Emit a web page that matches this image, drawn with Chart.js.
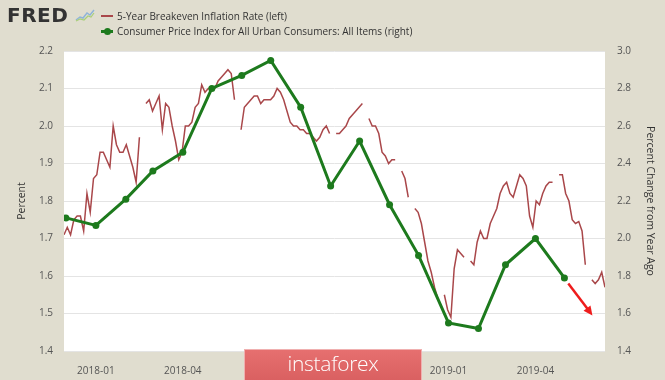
<!DOCTYPE html>
<html>
<head>
<meta charset="utf-8">
<script src="https://cdn.jsdelivr.net/npm/chart.js@4.4.1/dist/chart.umd.min.js"></script>
<style>
  body { margin: 0; background: #e0ddcf; }
  #wrap { position: relative; width: 665px; height: 380px; overflow: hidden; font-family: "Open Sans", sans-serif; }
  #c { position: absolute; left: 0; top: 0; }
  .logo { position: absolute; left: 7px; top: 3px; font: bold 20px "DejaVu Sans", sans-serif; color: #333; letter-spacing: 0.5px; }
  .icon { position: absolute; left: 75px; top: 8px; }
  .leg { position: absolute; left: 117px; font-size: 10px; color: #333; line-height: 14px; white-space: nowrap; }
  .sw { position: absolute; left: 101px; width: 12px; }
  .mark { position: absolute; left: 244px; top: 349px; width: 178px; height: 34px; background: linear-gradient(#e66f6f, #d95f60);
          border: 1px solid #f0b0b0; box-sizing: border-box; color: #fff; font: 300 21px "Open Sans", sans-serif; text-align: center; line-height: 26px; letter-spacing: -0.3px; }
</style>
</head>
<body>
<div id="wrap">
  <canvas id="c" width="665" height="380"></canvas>
  <div class="logo">FRED</div>
  <svg class="icon" width="20" height="14"><polyline points="1,12 5,9 8,10 12,5 15,7 19,2" fill="none" stroke="#8fb4d8" stroke-width="1.5"/><polyline points="1,13 5,11 9,12 13,8 16,9 19,5" fill="none" stroke="#a9cf7a" stroke-width="1.2"/></svg>
  <div class="sw" style="top:15px;height:2px;background:#a9474a"></div>
  <div class="leg" style="top:9px">5-Year Breakeven Inflation Rate (left)</div>
  <div class="sw" style="top:30px;height:3px;background:#1d7a1d"></div>
  <div class="sw" style="top:27.5px;left:104px;width:7px;height:7px;border-radius:50%;background:#1d7a1d"></div>
  <div class="leg" style="top:24px">Consumer Price Index for All Urban Consumers: All Items (right)</div>
  <div class="mark">instaforex</div>
</div>
<script>
// days counted from 2018-01-01
function dayOf(s) { return (Date.parse(s + 'T00:00:00Z') - Date.UTC(2018, 0, 1)) / 86400000; }

// 5-Year Breakeven Inflation Rate, sampled evenly from beStart to beEnd (null = missing)
const beStart = '2017-11-29';
const beEnd = '2019-06-12';
const beValues = [
  1.71, 1.73, 1.71, 1.75, 1.76, 1.76, 1.72, 1.82, 1.77, 1.86,
  1.87, 1.93, 1.93, 1.91, 1.89, 2.00, 1.95, 1.93, 1.93, 1.95,
  1.92, 1.89, 1.85, 1.97, null, 2.06, 2.07, 2.04, 2.06, 2.08,
  1.99, 2.06, 2.05, 2.00, 1.96, 1.91, 1.93, 2.00, 2.00, 2.01,
  2.05, 2.06, 2.11, 2.09, 2.10, 2.10, 2.10, 2.12, 2.13, 2.14,
  2.15, 2.14, 2.07, null, 1.99, 2.05, 2.06, 2.07, 2.08, 2.08,
  2.06, 2.07, 2.07, 2.07, 2.08, 2.10, 2.09, 2.07, 2.04, 2.01,
  2.00, 2.00, 1.99, 1.99, 1.98, 1.98, 1.97, 1.96, 1.97, 1.99,
  2.00, 1.98, null, 1.98, 1.98, 1.99, 2.00, 2.02, 2.03, 2.04,
  2.05, 2.06, null, 2.02, 2.00, 2.00, 1.98, 1.93, 1.92, 1.90,
  1.91, 1.91, null, 1.88, 1.86, 1.81, null, 1.78, 1.77, 1.74,
  1.69, 1.64, 1.61, 1.57, 1.54, null, 1.55, 1.51, 1.49, 1.62,
  1.67, 1.66, 1.65, null, 1.64, 1.63, 1.69, 1.72, 1.70, 1.70,
  1.74, 1.76, 1.78, 1.82, 1.84, 1.85, 1.82, 1.81, 1.84, 1.87,
  1.86, 1.84, 1.76, 1.73, 1.80, 1.79, 1.82, 1.84, 1.85, 1.85,
  null, 1.87, 1.87, 1.82, 1.80, 1.75, 1.74, 1.745, 1.72, 1.63,
  null, 1.59, 1.58, 1.59, 1.61, 1.57
];

// CPI, percent change from year ago (monthly)
const cpiMonths = ['2017-12-01', '2018-01-01', '2018-02-01', '2018-03-01', '2018-04-01', '2018-05-01',
  '2018-06-01', '2018-07-01', '2018-08-01', '2018-09-01', '2018-10-01', '2018-11-01',
  '2018-12-01', '2019-01-01', '2019-02-01', '2019-03-01', '2019-04-01', '2019-05-01'];
const cpiValues = [2.11, 2.07, 2.21, 2.36, 2.46, 2.80, 2.87, 2.95, 2.70, 2.28, 2.52, 2.18,
  1.91, 1.55, 1.52, 1.86, 2.00, 1.79];

const xTickDates = ['2018-01-01', '2018-04-01', '2018-07-01', '2018-10-01', '2019-01-01', '2019-04-01'];
const xTickLabels = ['2018-01', '2018-04', '2018-07', '2018-10', '2019-01', '2019-04'];
const leftTicks = [1.4, 1.5, 1.6, 1.7, 1.8, 1.9, 2.0, 2.1, 2.2];
const rightTicks = [1.4, 1.6, 1.8, 2.0, 2.2, 2.4, 2.6, 2.8, 3.0];

// red arrow after the last CPI point (date, right-axis value)
const arrowFrom = ['2019-05-05', 1.76];
const arrowTo = ['2019-05-30', 1.59];

const d0 = dayOf(beStart), d1 = dayOf(beEnd);
const beData = beValues.map((v, i) => ({ x: d0 + i * (d1 - d0) / (beValues.length - 1), y: v }));
const cpiData = cpiMonths.map((m, i) => ({ x: dayOf(m), y: cpiValues[i] }));

const font = { family: '"Open Sans", sans-serif', size: 10 };

const plotBg = {
  id: 'plotBg',
  beforeDraw(chart) {
    const a = chart.chartArea, ctx = chart.ctx;
    ctx.save();
    ctx.fillStyle = '#fff';
    ctx.fillRect(a.left, a.top, a.right - a.left, a.bottom - a.top);
    ctx.restore();
  }
};

const arrow = {
  id: 'arrow',
  afterDatasetsDraw(chart) {
    const sx = chart.scales.x, sy = chart.scales.y1, ctx = chart.ctx;
    const x1 = sx.getPixelForValue(dayOf(arrowFrom[0])), y1 = sy.getPixelForValue(arrowFrom[1]);
    const x2 = sx.getPixelForValue(dayOf(arrowTo[0])), y2 = sy.getPixelForValue(arrowTo[1]);
    const ang = Math.atan2(y2 - y1, x2 - x1);
    ctx.save();
    ctx.strokeStyle = '#ee1c1c';
    ctx.fillStyle = '#ee1c1c';
    ctx.lineWidth = 2.5;
    ctx.beginPath();
    ctx.moveTo(x1, y1);
    ctx.lineTo(x2 - 6 * Math.cos(ang), y2 - 6 * Math.sin(ang));
    ctx.stroke();
    ctx.beginPath();
    ctx.moveTo(x2, y2);
    ctx.lineTo(x2 - 10 * Math.cos(ang - 0.45), y2 - 10 * Math.sin(ang - 0.45));
    ctx.lineTo(x2 - 10 * Math.cos(ang + 0.45), y2 - 10 * Math.sin(ang + 0.45));
    ctx.closePath();
    ctx.fill();
    ctx.restore();
  }
};

new Chart(document.getElementById('c'), {
  type: 'line',
  data: {
    datasets: [
      { label: 'Consumer Price Index for All Urban Consumers: All Items (right)', data: cpiData, yAxisID: 'y1',
        borderColor: '#1d7a1d', backgroundColor: '#1d7a1d', borderWidth: 3, pointRadius: 3.5,
        pointBorderWidth: 0, order: 0 },
      { label: '5-Year Breakeven Inflation Rate (left)', data: beData, yAxisID: 'y',
        borderColor: '#a9474a', borderWidth: 1.5, pointRadius: 0, spanGaps: false, order: 1 }
    ]
  },
  options: {
    responsive: false,
    animation: false,
    devicePixelRatio: 1,
    layout: { padding: { left: 12, right: 5, top: 51, bottom: 0 } },
    plugins: { legend: { display: false }, tooltip: { enabled: false } },
    scales: {
      x: {
        type: 'linear', min: -33, max: 527,
        grid: { display: false }, border: { display: false },
        afterBuildTicks: s => { s.ticks = xTickDates.map(d => ({ value: dayOf(d) })); },
        afterFit: s => { s.height = 29; },
        ticks: { autoSkip: false, maxRotation: 0, padding: 6, color: '#555', font,
          callback: v => xTickLabels[xTickDates.findIndex(d => dayOf(d) === v)] }
      },
      y: {
        position: 'left', min: 1.4, max: 2.2,
        grid: { color: '#e4e4e4', drawTicks: false }, border: { display: false },
        afterBuildTicks: s => { s.ticks = leftTicks.map(v => ({ value: v })); },
        afterFit: s => { s.width = 52; },
        ticks: { padding: 11, color: '#555', font, callback: v => v.toFixed(1) },
        title: { display: true, text: 'Percent', color: '#333', font: { family: '"Open Sans", sans-serif', size: 10.5 } }
      },
      y1: {
        position: 'right', min: 1.4, max: 3.0,
        grid: { display: false, drawTicks: false }, border: { display: false },
        afterBuildTicks: s => { s.ticks = rightTicks.map(v => ({ value: v })); },
        afterFit: s => { s.width = 55; },
        ticks: { padding: 12, color: '#555', font, callback: v => v.toFixed(1) },
        title: { display: true, text: 'Percent Change from Year Ago', color: '#333', font: { family: '"Open Sans", sans-serif', size: 10.5 } }
      }
    }
  },
  plugins: [plotBg, arrow]
});
</script>
</body>
</html>
